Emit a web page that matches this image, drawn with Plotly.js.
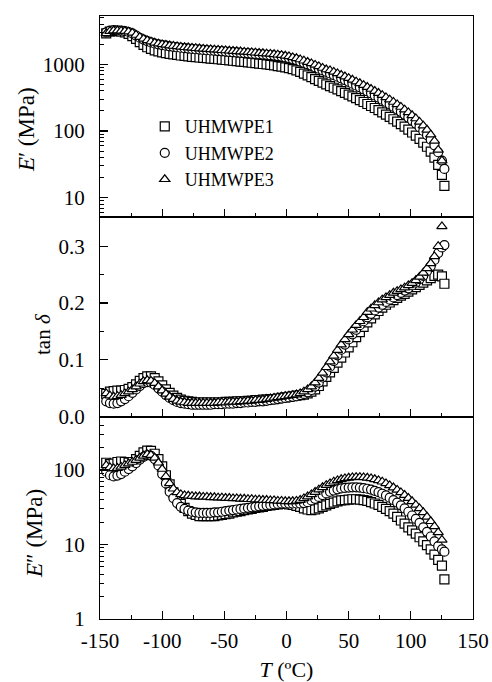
<!DOCTYPE html>
<html>
<head>
<meta charset="utf-8">
<script src="https://cdn.plot.ly/plotly-3.0.1.min.js"></script>
<style>html,body{margin:0;padding:0;background:#fff;}#chart{width:492px;height:682px;}</style>
</head>
<body>
<div id="chart"></div>
<script>
// Temperature (°C)
const T = [-145,-142,-139,-136,-133,-130,-127,-124,-121,-118,
  -115,-112,-109,-106,-103,-100,-97,-94,-91,-88,
  -85,-82,-79,-76,-73,-70,-67,-64,-61,-58,
  -55,-52,-49,-46,-43,-40,-37,-34,-31,-28,
  -25,-22,-19,-16,-13,-10,-7,-4,-1,2,
  5,8,11,14,17,20,23,26,29,32,
  35,38,41,44,47,50,53,56,59,62,
  65,68,71,74,77,80,83,86,89,92,
  95,98,101,104,107,110,113,116,119,122,
  125,127];

const seriesNames = ["UHMWPE1", "UHMWPE2", "UHMWPE3"];

// Storage modulus E' (MPa)
const storageU1 = [2900,3100,3150,3150,3100,3000,2850,2650,2400,2150,
  1950,1800,1700,1620,1560,1510,1470,1435,1405,1380,
  1355,1335,1315,1295,1280,1265,1250,1235,1220,1205,
  1190,1175,1160,1145,1130,1115,1100,1085,1070,1055,
  1040,1025,1010,995,980,960,940,920,900,875,
  845,810,770,725,680,640,600,565,530,500,
  472,445,420,396,373,351,330,310,291,272,
  254,237,221,205,190,176,163,150,138,127,
  116,105,95,85,76,67,58,49,40,31,
  22,15];
const storageU2 = [3000,3200,3250,3230,3200,3150,3050,2900,2700,2500,
  2350,2230,2130,2050,1990,1940,1900,1860,1830,1800,
  1770,1745,1720,1700,1680,1660,1640,1625,1610,1595,
  1580,1565,1550,1535,1520,1505,1490,1475,1460,1445,
  1430,1415,1400,1385,1370,1350,1330,1305,1275,1240,
  1200,1155,1105,1055,1005,955,905,860,815,772,
  730,690,652,615,580,546,513,481,451,422,
  394,367,341,317,294,272,251,231,212,194,
  177,160,144,129,114,100,87,74,61,48,
  36,27];
const storageU3 = [2900,3150,3200,3200,3180,3150,3080,2950,2750,2550,
  2400,2280,2180,2100,2040,1990,1950,1910,1880,1850,
  1820,1800,1780,1760,1740,1720,1700,1685,1670,1655,
  1640,1625,1610,1595,1580,1565,1550,1535,1520,1505,
  1490,1475,1460,1445,1430,1410,1390,1370,1340,1310,
  1270,1230,1180,1130,1080,1030,980,930,880,835,
  810,770,730,690,655,620,585,550,518,487,
  456,426,397,370,344,319,295,272,250,229,
  209,190,172,154,137,120,104,88,71,52,
  36];

// Loss tangent tan δ
const tandU1 = [0.040,0.044,0.045,0.046,0.046,0.047,0.049,0.052,0.057,0.063,
  0.068,0.071,0.071,0.068,0.062,0.055,0.048,0.042,0.037,0.033,
  0.030,0.028,0.027,0.026,0.025,0.025,0.025,0.025,0.025,0.025,
  0.025,0.025,0.026,0.026,0.026,0.027,0.027,0.027,0.028,0.028,
  0.029,0.029,0.030,0.030,0.031,0.031,0.032,0.033,0.034,0.035,
  0.036,0.037,0.038,0.039,0.041,0.044,0.048,0.054,0.062,0.070,
  0.078,0.086,0.095,0.104,0.113,0.122,0.131,0.140,0.149,0.158,
  0.166,0.173,0.180,0.186,0.192,0.197,0.201,0.205,0.209,0.213,
  0.216,0.220,0.224,0.228,0.232,0.236,0.240,0.244,0.248,0.250,
  0.247,0.234];
const tandU2 = [0.027,0.024,0.023,0.024,0.027,0.031,0.036,0.042,0.048,0.054,
  0.059,0.061,0.060,0.056,0.050,0.044,0.038,0.033,0.029,0.026,
  0.024,0.023,0.022,0.021,0.021,0.021,0.021,0.021,0.021,0.022,
  0.022,0.022,0.023,0.023,0.023,0.024,0.024,0.025,0.025,0.026,
  0.026,0.027,0.027,0.028,0.029,0.030,0.031,0.032,0.033,0.034,
  0.035,0.036,0.038,0.040,0.043,0.047,0.053,0.060,0.069,0.078,
  0.088,0.098,0.108,0.118,0.127,0.136,0.145,0.153,0.161,0.168,
  0.175,0.181,0.187,0.192,0.197,0.202,0.206,0.210,0.214,0.218,
  0.222,0.226,0.231,0.236,0.242,0.248,0.256,0.265,0.276,0.288,
  0.298,0.302];
const tandU3 = [0.041,0.037,0.035,0.036,0.038,0.041,0.044,0.048,0.053,0.058,
  0.062,0.064,0.063,0.059,0.053,0.046,0.040,0.035,0.031,0.028,
  0.026,0.025,0.024,0.024,0.024,0.024,0.024,0.024,0.024,0.024,
  0.025,0.025,0.025,0.026,0.026,0.026,0.027,0.027,0.028,0.028,
  0.029,0.029,0.030,0.031,0.032,0.033,0.034,0.035,0.036,0.037,
  0.038,0.039,0.041,0.044,0.048,0.053,0.060,0.068,0.077,0.087,
  0.097,0.107,0.117,0.127,0.136,0.145,0.153,0.161,0.168,0.175,
  0.184,0.190,0.196,0.201,0.206,0.210,0.214,0.218,0.221,0.224,
  0.227,0.231,0.235,0.240,0.246,0.253,0.261,0.270,0.282,0.300,
  0.335];

// Loss modulus E'' (MPa)
const lossU1 = [125,120,122,128,130,128,125,128,140,155,
  172,182,180,165,140,112,85,64,50,41,
  35,31,28,26,25,24,24,24,24,24,
  24.5,25,25.5,26,27,27.5,28,29,29.5,30,
  31,31.5,32,33,33.5,34,34.5,35,35,34.5,
  34,33,32,30.5,29.5,29,29.5,30.5,32,33.5,
  35,36.5,38,39,39.5,40,40.5,40.5,40,39.5,
  38.5,37,35.5,34,32,30,28,26,23.5,21,
  19,17,15.5,14,12.5,11,9.8,8.6,7.3,6.2,
  5.2,3.4];
const lossU2 = [95,85,82,84,88,95,103,112,124,138,
  150,158,155,140,115,88,66,51,42,36,
  32,30,28.5,27.5,27,26.5,26.5,26.5,26.5,27,
  27,27.5,28,28.5,29,29.5,30,30.5,31,31.5,
  32,32.5,33,33.5,34,34.5,35,35.5,35.5,35.5,
  35.5,35.5,35.5,36,37,39,41,43.5,46,48.5,
  51,53,55,56.5,57.5,58,58.5,58.5,58,57,
  56,54.5,52.5,50.5,48,45.5,42.5,39.5,36.5,33.5,
  30.5,27.5,24.5,22,19.5,17,14.8,12.8,11,9.5,
  8.6,8.0];
const lossU3 = [115,108,105,106,110,116,122,128,136,145,
  155,162,158,145,125,103,82,66,56,50,
  47,45.5,45,44.5,44,44,43.5,43.5,43,43,
  42.5,42.5,42,42,41.5,41.5,41,41,40.5,40.5,
  40,40,39.5,39.5,39,39,38.5,38.5,38,38,
  38,38.5,39.5,41.5,44,47,50.5,54.5,58.5,62.5,
  66,69.5,72.5,75,77,78.5,79.5,80,80,79.5,
  78.5,77,75,72.5,69.5,66,62,58,54,50,
  46,42,38,34,30.5,27,23.5,20.5,17.5,14.5,
  11.5];

// Tick labels
const xTickVals = [-150,-100,-50,0,50,100,150];
const xTickText = ["-150","-100","-50","0","50","100","150"];
const storageTickVals = [10,100,1000];
const storageTickText = ["10","100","1000"];
const tandTickVals = [0,0.1,0.2,0.3];
const tandTickText = ["0.0","0.1","0.2","0.3"];
const lossTickVals = [1,10,100];
const lossTickText = ["1","10","100"];

const symbols = ["square", "circle", "triangle-up"];
const FONT = "Liberation Serif, Times New Roman, serif";

const traces = [];
function addPanel(ys, yaxis, xaxis, showLegend) {
  ys.forEach((y, i) => {
    traces.push({
      type: "scatter", mode: "markers",
      x: T, y: y, xaxis: xaxis, yaxis: yaxis,
      name: seriesNames[i], showlegend: showLegend,
      marker: {symbol: symbols[i], size: 9, color: "#ffffff",
               line: {color: "#000000", width: 1.2}},
      hoverinfo: "skip"
    });
  });
}
addPanel([storageU1, storageU2, storageU3], "y", "x3", true);
addPanel([tandU1, tandU2, tandU3], "y2", "x2", false);
addPanel([lossU1, lossU2, lossU3], "y3", "x", false);

const axLine = {showline: true, mirror: true, linecolor: "#000", linewidth: 1,
  ticks: "inside", ticklen: 8, tickcolor: "#000", tickwidth: 1.2,
  showgrid: false, zeroline: false, fixedrange: true};

const xBase = Object.assign({}, axLine, {
  range: [-150, 150], tickmode: "array", tickvals: xTickVals, ticktext: xTickText,
  minor: {dtick: 25, tick0: 0, ticks: "inside", ticklen: 4, tickcolor: "#000", tickwidth: 1, showgrid: false},
  tickfont: {family: FONT, size: 21, color: "#000"}
});

const d1 = (619 - 416.7) / 603, d2 = (619 - 216.7) / 603;

const layout = {
  width: 492, height: 682,
  margin: {l: 100, r: 19, t: 16, b: 63},
  paper_bgcolor: "#fff", plot_bgcolor: "#fff",
  font: {family: FONT, color: "#000"},
  xaxis: Object.assign({}, xBase, {anchor: "y3", ticklabelstandoff: 3,
    title: {text: "<i>T</i> (ºC)", font: {family: FONT, size: 22, color: "#000"}, standoff: 14}}),
  xaxis2: Object.assign({}, xBase, {anchor: "y2", matches: "x", showticklabels: false}),
  xaxis3: Object.assign({}, xBase, {anchor: "y", matches: "x", showticklabels: false}),
  yaxis: Object.assign({}, axLine, {domain: [d2, 1], anchor: "x3", type: "log",
    range: [0.715, 3.724], tickmode: "array", tickvals: storageTickVals, ticktext: storageTickText,
    minor: {dtick: "D1", ticks: "inside", ticklen: 4, tickcolor: "#000", tickwidth: 1, showgrid: false},
    tickfont: {family: FONT, size: 21, color: "#000"}, ticklabelstandoff: 10}),
  yaxis2: Object.assign({}, axLine, {domain: [d1, d2], anchor: "x2",
    range: [0, 0.352], tickmode: "array", tickvals: tandTickVals, ticktext: tandTickText,
    minor: {dtick: 0.05, tick0: 0, ticks: "inside", ticklen: 4, tickcolor: "#000", tickwidth: 1, showgrid: false},
    tickfont: {family: FONT, size: 21, color: "#000"}, ticklabelstandoff: 10}),
  yaxis3: Object.assign({}, axLine, {domain: [0, d1], anchor: "x", type: "log",
    range: [0, 2.715], tickmode: "array", tickvals: lossTickVals, ticktext: lossTickText,
    minor: {dtick: "D1", ticks: "inside", ticklen: 4, tickcolor: "#000", tickwidth: 1, showgrid: false},
    tickfont: {family: FONT, size: 21, color: "#000"}, ticklabelstandoff: 10}),
  legend: {x: 0.12, y: 0.847, xanchor: "left", yanchor: "top", bgcolor: "rgba(0,0,0,0)",
    font: {family: FONT, size: 18, color: "#000"}, itemwidth: 30, tracegroupgap: 0},
  annotations: [
    {text: "<i>E</i>′ (MPa)", xref: "paper", yref: "paper", x: (26 - 100) / 373, y: (619 - 130) / 603,
     textangle: -90, showarrow: false, xanchor: "center", yanchor: "middle",
     font: {family: FONT, size: 23, color: "#000"}},
    {text: "tan <i>δ</i>", xref: "paper", yref: "paper", x: (43 - 100) / 373, y: (619 - 334) / 603,
     textangle: -90, showarrow: false, xanchor: "center", yanchor: "middle",
     font: {family: FONT, size: 21, color: "#000"}},
    {text: "<i>E</i>″ (MPa)", xref: "paper", yref: "paper", x: (34 - 100) / 373, y: (619 - 534) / 603,
     textangle: -90, showarrow: false, xanchor: "center", yanchor: "middle",
     font: {family: FONT, size: 23, color: "#000"}}
  ]
};

Plotly.newPlot("chart", traces, layout, {staticPlot: true, displayModeBar: false});
</script>
</body>
</html>
